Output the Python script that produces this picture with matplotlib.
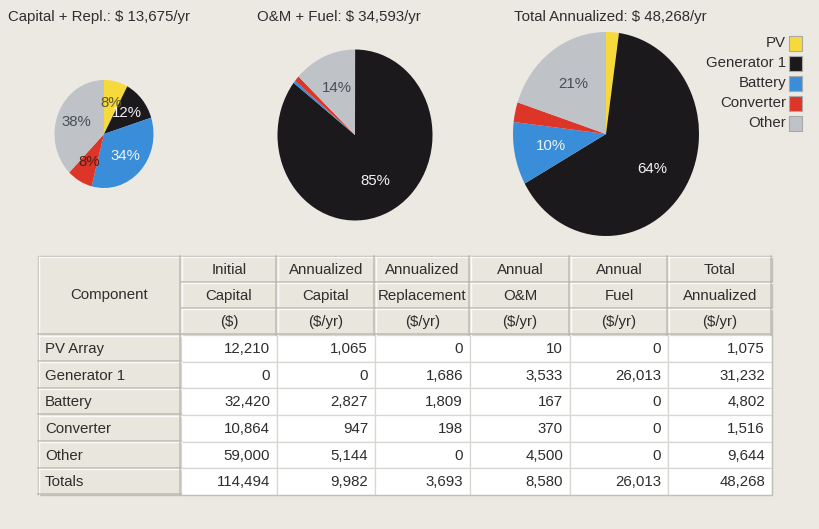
import matplotlib
matplotlib.use('Agg')
import matplotlib.pyplot as plt
from matplotlib.patches import Rectangle
import numpy as np

# ---------------- data ----------------
components = ['PV Array', 'Generator 1', 'Battery', 'Converter', 'Other']
legend_names = ['PV', 'Generator 1', 'Battery', 'Converter', 'Other']
initial_capital = [12210, 0, 32420, 10864, 59000]
annualized_capital = [1065, 0, 2827, 947, 5144]
annualized_replacement = [0, 1686, 1809, 198, 0]
annual_om = [10, 3533, 167, 370, 4500]
annual_fuel = [0, 26013, 0, 0, 0]
total_annualized = [1075, 31232, 4802, 1516, 9644]
totals_row = [114494, 9982, 3693, 8580, 26013, 48268]

header_line1 = ['Initial', 'Annualized', 'Annualized', 'Annual', 'Annual', 'Total']
header_line2 = ['Capital', 'Capital', 'Replacement', 'O&M', 'Fuel', 'Annualized']
header_line3 = ['($)', '($/yr)', '($/yr)', '($/yr)', '($/yr)', '($/yr)']

pie_titles = ['Capital + Repl.: $ 13,675/yr', 'O&M + Fuel: $ 34,593/yr',
              'Total Annualized: $ 48,268/yr']
pie1_labels = ['8%', '12%', '34%', '8%', '38%']
pie2_labels = ['', '85%', '', '', '14%']
pie3_labels = ['', '64%', '10%', '', '21%']

colors = ['#F6DA3C', '#1B191B', '#3A8DD8', '#DD3628', '#BFC2C7']
label_colors = ['#5A5530', '#F2F2F2', '#EEF3F8', '#4A2018', '#4A4E56']

# pie values built from the table columns
pie1_values = [c + r for c, r in zip(annualized_capital, annualized_replacement)]
pie2_values = [o + f for o, f in zip(annual_om, annual_fuel)]
pie3_values = total_annualized

# ---------------- figure ----------------
W, H = 819, 529
BG = '#ECE9E2'
FONT = ['Liberation Sans', 'DejaVu Sans']
TXT = '#2E2E2E'
plt.rcParams['font.family'] = FONT

fig = plt.figure(figsize=(W / 100, H / 100), dpi=100, facecolor=BG)
base = fig.add_axes([0, 0, 1, 1])
base.set_xlim(0, W)
base.set_ylim(H, 0)
base.axis('off')
base.set_facecolor(BG)

FS = 10.8

# titles
title_x = [8, 257, 514]
for t, x in zip(pie_titles, title_x):
    base.text(x, 21, t, ha='left', va='baseline', fontsize=FS, color=TXT)

# pies
pie_boxes = [(104, 134, 99, 108), (355, 135, 155, 171), (606, 134, 186, 204)]
pie_vals = [pie1_values, pie2_values, pie3_values]
pie_labs = [pie1_labels, pie2_labels, pie3_labels]
for (cx, cy, w, h), vals, labs in zip(pie_boxes, pie_vals, pie_labs):
    ax = fig.add_axes([(cx - w / 2) / W, 1 - (cy + h / 2) / H, w / W, h / H])
    wedges, _ = ax.pie(vals, colors=colors, startangle=90, counterclock=False,
                       radius=1, wedgeprops=dict(linewidth=0))
    ax.set_aspect('auto')
    ax.set_xlim(-1, 1)
    ax.set_ylim(-1, 1)
    ax.axis('off')
    for wdg, lab, lc in zip(wedges, labs, label_colors):
        if not lab:
            continue
        ang = np.deg2rad((wdg.theta1 + wdg.theta2) / 2)
        ax.text(0.6 * np.cos(ang), 0.6 * np.sin(ang), lab, ha='center', va='center',
                fontsize=FS, color=lc)

# legend
for i, (name, c) in enumerate(zip(legend_names, colors)):
    y = 43 + 20 * i
    base.text(786, y, name, ha='right', va='center', fontsize=FS, color=TXT)
    base.add_patch(Rectangle((789, y - 7.5), 13, 15, facecolor=c,
                             edgecolor='#A8A8A8', linewidth=0.8))

# ---------------- table ----------------
col_x = [38, 181, 277, 375, 470, 570, 668, 772]
head_y = [256, 282.3, 308.6, 335]
row_h = (495 - 335) / 6
HDR = '#E9E6DE'
DARK = '#BDBAB2'
LIGHT = '#FAFAF8'


def header_cell(x0, y0, x1, y1):
    base.add_patch(Rectangle((x0, y0), x1 - x0, y1 - y0, facecolor=HDR,
                             edgecolor='none'))
    base.plot([x0 + 0.5, x1 - 0.5], [y0 + 0.8, y0 + 0.8], color=LIGHT, lw=1.0)
    base.plot([x0 + 0.8, x0 + 0.8], [y0 + 0.5, y1 - 0.5], color=LIGHT, lw=1.0)
    base.plot([x0, x1], [y1 - 0.6, y1 - 0.6], color=DARK, lw=1.1)
    base.plot([x1 - 0.6, x1 - 0.6], [y0, y1], color=DARK, lw=1.1)


# Component header spanning three rows
header_cell(col_x[0], head_y[0], col_x[1], head_y[3])
base.text((col_x[0] + col_x[1]) / 2, (head_y[0] + head_y[3]) / 2, 'Component',
          ha='center', va='center', fontsize=FS, color=TXT)

for j in range(6):
    x0, x1 = col_x[j + 1], col_x[j + 2]
    for k, lines in enumerate([header_line1, header_line2, header_line3]):
        y0, y1 = head_y[k], head_y[k + 1]
        header_cell(x0, y0, x1, y1)
        base.text((x0 + x1) / 2, (y0 + y1) / 2 + 0.5, lines[j], ha='center',
                  va='center', fontsize=FS, color=TXT)

columns = [initial_capital, annualized_capital, annualized_replacement,
           annual_om, annual_fuel, total_annualized]
row_names = components + ['Totals']
for i, name in enumerate(row_names):
    y0 = head_y[3] + i * row_h
    y1 = y0 + row_h
    header_cell(col_x[0], y0, col_x[1], y1)
    base.text(col_x[0] + 7, (y0 + y1) / 2 + 0.5, name, ha='left', va='center',
              fontsize=FS, color=TXT)
    for j in range(6):
        x0, x1 = col_x[j + 1], col_x[j + 2]
        base.add_patch(Rectangle((x0, y0), x1 - x0, y1 - y0, facecolor='white',
                                 edgecolor='#D9D7D1', linewidth=0.9))
        v = totals_row[j] if name == 'Totals' else columns[j][i]
        base.text(x1 - 7, (y0 + y1) / 2 + 0.5, f'{v:,}', ha='right', va='center',
                  fontsize=FS, color=TXT)

# outer frame
base.add_patch(Rectangle((col_x[0], head_y[0]), col_x[-1] - col_x[0],
                         495 - head_y[0], facecolor='none', edgecolor='#C2BFB8',
                         linewidth=1.0))

fig.savefig('out.png', dpi=100, facecolor=BG)
